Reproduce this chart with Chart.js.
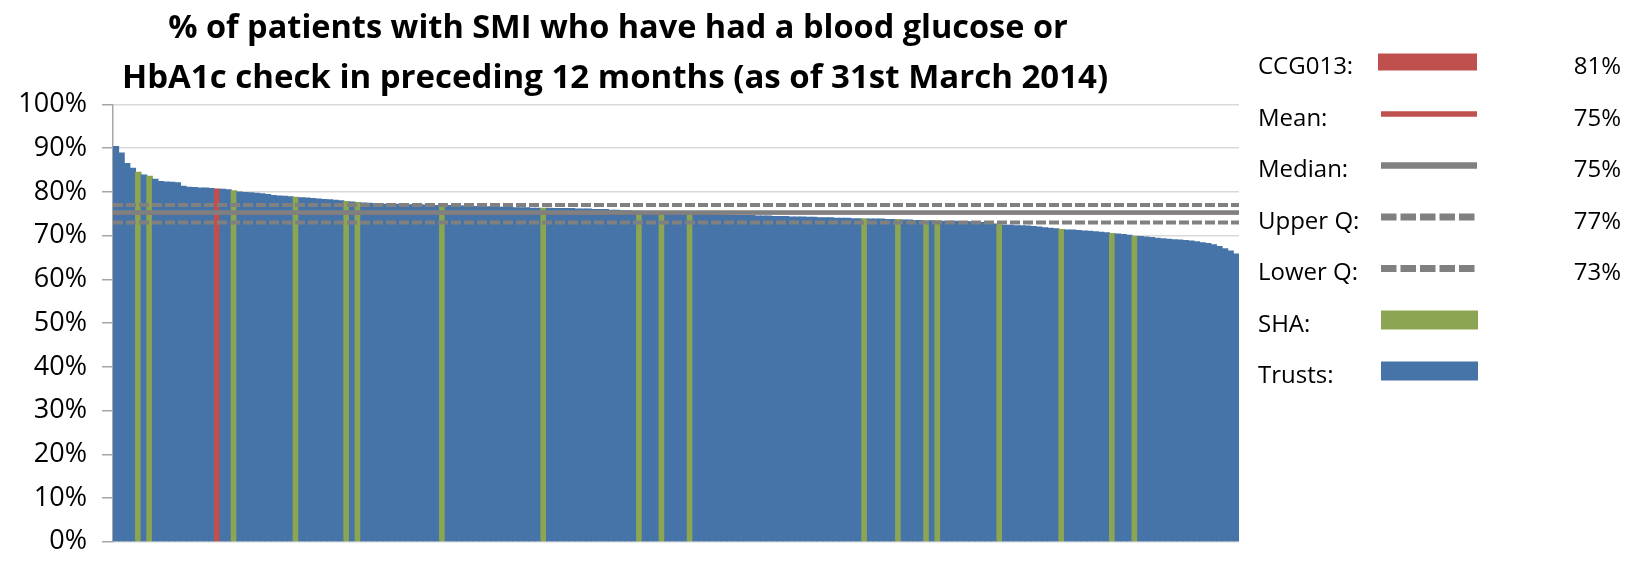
<!DOCTYPE html>
<html><head><meta charset="utf-8">
<script src="https://cdn.jsdelivr.net/npm/chart.js@4"></script>
<style>html,body{margin:0;padding:0;background:#fff}#wrap{width:1631px;height:573px;position:relative}</style>
</head><body><div id="wrap"><canvas id="c"></canvas></div>
<script>
// ---- data ----
const titleLines = ['% of patients with SMI who have had a blood glucose or', 'HbA1c check in preceding 12 months (as of 31st March 2014)'];
const values = [
90.4,88.9,86.5,85.4,84.5,83.9,83.6,82.9,82.4,82.3,
82.2,82.1,81.3,81.1,81.0,80.9,80.9,80.8,80.7,80.6,
80.5,80.3,80.0,79.9,79.8,79.7,79.6,79.4,79.2,79.1,
79.0,78.9,78.8,78.7,78.6,78.5,78.4,78.3,78.2,78.1,
78.0,77.8,77.7,77.6,77.5,77.4,77.3,77.3,77.2,77.2,
77.2,77.1,77.1,77.1,77.0,77.0,77.0,76.9,76.9,76.9,
76.8,76.8,76.8,76.7,76.7,76.6,76.6,76.6,76.5,76.5,
76.5,76.4,76.4,76.4,76.3,76.3,76.3,76.3,76.2,76.2,
76.2,76.2,76.1,76.1,76.1,76.0,76.0,76.0,75.8,75.8,
75.7,75.7,75.6,75.6,75.5,75.5,75.4,75.4,75.3,75.3,
75.2,75.1,75.0,75.0,75.0,74.9,74.9,74.8,74.8,74.7,
74.7,74.6,74.6,74.6,74.5,74.5,74.5,74.4,74.4,74.4,
74.3,74.3,74.3,74.2,74.2,74.1,74.1,74.1,74.0,74.0,
74.0,73.9,73.9,73.9,73.8,73.8,73.8,73.7,73.7,73.7,
73.6,73.6,73.5,73.5,73.4,73.4,73.4,73.3,73.3,73.3,
73.2,73.2,73.2,73.1,73.0,72.9,72.7,72.5,72.4,72.4,
72.3,72.3,72.2,72.1,72.0,71.8,71.7,71.6,71.4,71.3,
71.3,71.2,71.1,71.0,70.9,70.8,70.7,70.5,70.4,70.3,
70.1,69.9,69.8,69.7,69.6,69.4,69.3,69.2,69.1,69.0,
68.9,68.8,68.6,68.4,68.2,67.9,67.5,67.0,66.5,65.8
];
const shaIndex = [4,6,21,32,41,43,58,76,93,97,102,133,139,144,146,157,168,177,181];
const ccgIndex = [18];
const meanValue = 75.2;
const medianValue = 75.3;
const upperQValue = 77.0;
const lowerQValue = 73.0;
const yTicks = [0,10,20,30,40,50,60,70,80,90,100];
const legendLabels = ['CCG013:','Mean:','Median:','Upper Q:','Lower Q:','SHA:','Trusts:'];
const legendValues = ['81%','75%','75%','77%','73%','',''];

// ---- styles ----
const BLUE = '#4674A8', GREEN = '#8BA552', RED = '#C0504D', GREY = '#808080';
const FONT = '"Open Sans", "Liberation Sans", sans-serif';

const barColors = values.map((v, i) => ccgIndex.includes(i) ? RED : (shaIndex.includes(i) ? GREEN : BLUE));
const hline = (v, color, width, dash, order) => ({
  type: 'line', xAxisID: 'x2', data: [{x: 0, y: v}, {x: 1, y: v}],
  borderColor: color, borderWidth: width, borderDash: dash, borderCapStyle: 'butt',
  pointRadius: 0, fill: false, order: order
});

const canvas = document.getElementById('c');
canvas.width = 1631; canvas.height = 573;

const decorPlugin = {
  id: 'decor',
  afterDraw(chart) {
    const ctx = chart.ctx;
    ctx.save();
    ctx.fillStyle = '#000';
    ctx.font = 'bold 32.5px ' + FONT;
    ctx.textAlign = 'center';
    ctx.textBaseline = 'middle';
    ctx.fillText(titleLines[0], 618, 29);
    ctx.font = 'bold 33px ' + FONT;
    ctx.fillText(titleLines[1], 615, 79);
    const rowY = [67, 119, 170.5, 222, 273.5, 325, 376];
    ctx.font = '24px ' + FONT;
    legendLabels.forEach((lab, i) => {
      const y = rowY[i];
      ctx.fillStyle = '#000';
      ctx.textAlign = 'left';
      ctx.fillText(lab, 1258, y);
      ctx.textAlign = 'right';
      if (legendValues[i]) ctx.fillText(legendValues[i], 1621, y);
      const sy = y - 5;
      ctx.setLineDash([]);
      if (i === 0) { ctx.fillStyle = RED; ctx.fillRect(1378, sy - 8.5, 99, 17); }
      else if (i === 1) { ctx.strokeStyle = RED; ctx.lineWidth = 5.5; ctx.beginPath(); ctx.moveTo(1381, sy); ctx.lineTo(1477, sy); ctx.stroke(); }
      else if (i === 2) { ctx.strokeStyle = GREY; ctx.lineWidth = 6.5; ctx.beginPath(); ctx.moveTo(1381, sy); ctx.lineTo(1477, sy); ctx.stroke(); }
      else if (i === 3 || i === 4) { ctx.strokeStyle = GREY; ctx.lineWidth = 7; ctx.setLineDash([15.5, 4]); ctx.beginPath(); ctx.moveTo(1381, sy); ctx.lineTo(1477, sy); ctx.stroke(); }
      else if (i === 5) { ctx.fillStyle = GREEN; ctx.fillRect(1381, sy - 9.5, 97, 19); }
      else if (i === 6) { ctx.fillStyle = BLUE; ctx.fillRect(1381, sy - 9.5, 97, 19); }
    });
    ctx.restore();
  }
};

new Chart(canvas, {
  type: 'bar',
  data: {
    labels: values.map((v, i) => String(i + 1)),
    datasets: [
      hline(medianValue, GREY, 4.5, [], 0),
      hline(meanValue, RED, 3, [], 1),
      hline(upperQValue, GREY, 4, [10, 3], 2),
      hline(lowerQValue, GREY, 4, [10, 3], 3),
      { type: 'bar', data: values, backgroundColor: barColors, borderWidth: 0, grouped: false,
        barPercentage: 1, categoryPercentage: 1, inflateAmount: 0.5, order: 10 }
    ]
  },
  options: {
    responsive: false, animation: false, devicePixelRatio: 1,
    layout: { padding: { left: 0, right: 392, top: 104.5, bottom: 13 } },
    plugins: { legend: { display: false }, title: { display: false }, tooltip: { enabled: false } },
    scales: {
      x: { display: false, offset: true },
      x2: { type: 'linear', min: 0, max: 1, display: false, offset: false },
      y: {
        min: 0, max: 100,
        afterBuildTicks: s => { s.ticks = yTicks.map(v => ({ value: v })); },
        afterFit: s => { s.width = 113; },
        ticks: { callback: v => v + '%', color: '#000', padding: 15,
                 font: { family: FONT, size: 27 } },
        grid: { color: '#D9D9D9', lineWidth: 1.5, tickLength: 11, tickColor: '#A6A6A6', tickWidth: 1.5 },
        border: { display: true, color: '#A6A6A6', width: 1.5 }
      }
    }
  },
  plugins: [decorPlugin]
});
</script></body></html>
